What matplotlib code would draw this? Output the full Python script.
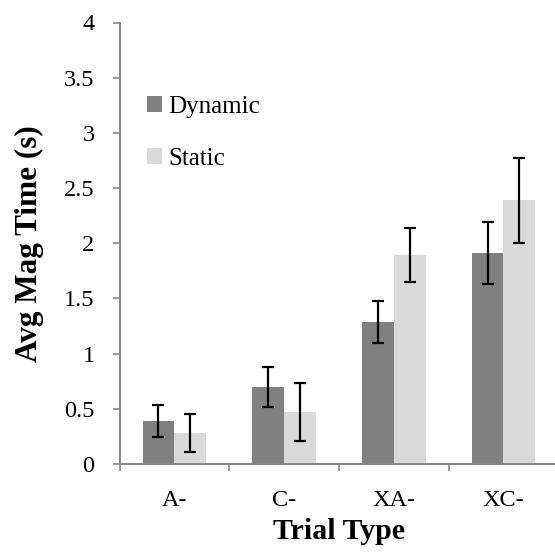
import matplotlib
matplotlib.use("Agg")
import matplotlib.pyplot as plt
import numpy as np

categories = ["A-", "C-", "XA-", "XC-"]
dynamic = [0.39, 0.70, 1.29, 1.91]
dynamic_err = [0.145, 0.18, 0.19, 0.28]
static = [0.28, 0.47, 1.89, 2.39]
static_err = [0.17, 0.26, 0.245, 0.385]
yticks = [0, 0.5, 1, 1.5, 2, 2.5, 3, 3.5, 4]
ytick_labels = ["0", "0.5", "1", "1.5", "2", "2.5", "3", "3.5", "4"]

plt.rcParams['font.family'] = ['Liberation Serif', 'DejaVu Serif']

W, H = 555, 552
fig = plt.figure(figsize=(W / 100, H / 100), dpi=100)
left, right = 119.5, 558.3
top, bottom = 22.5, 464
ax = fig.add_axes([left / W, (H - bottom) / H, (right - left) / W, (bottom - top) / H])

x = np.arange(len(categories))
bw = 0.29
spine_c = "#868686"
ekw = dict(ecolor="black", elinewidth=1.6, capsize=4.3, capthick=1.6)
ax.bar(x - bw / 2, dynamic, bw, color="#808080", label="Dynamic",
       yerr=dynamic_err, error_kw=ekw, zorder=2)
ax.bar(x + bw / 2, static, bw, color="#d9d9d9", label="Static",
       yerr=static_err, error_kw=ekw, zorder=2)

ax.set_xlim(-0.5, len(categories) - 0.5)
ax.set_ylim(0, 4)
ax.set_yticks(yticks)
ax.set_yticklabels(ytick_labels, fontsize=17.5)
ax.set_xticks(x)
ax.set_xticklabels(categories, fontsize=17.5)
ax.tick_params(axis='x', length=0, pad=19)
ax.set_xticks(np.arange(len(categories) + 1) - 0.5, minor=True)
ax.tick_params(axis='x', which='minor', length=5, width=1.2, color=spine_c, direction='out')
ax.tick_params(axis='y', length=5, width=1.2, color=spine_c, direction='out', pad=13)

for s in ["top", "right"]:
    ax.spines[s].set_visible(False)
for s in ["left", "bottom"]:
    ax.spines[s].set_color(spine_c)
    ax.spines[s].set_linewidth(1.4)

ax.set_ylabel("Avg Mag Time (s)", fontsize=22.5, fontweight="bold", labelpad=14)
ax.set_xlabel("Trial Type", fontsize=21.5, fontweight="bold", labelpad=5)

fs = 18
leg = ax.legend(loc="upper left", bbox_to_anchor=(27.5 / (right - left), (bottom - 96) / (bottom - top)),
                frameon=False, fontsize=fs, handlelength=0.6, handleheight=0.6,
                handletextpad=0.25, labelspacing=1.2, borderaxespad=0, borderpad=0)

fig.savefig("out.png", dpi=100)
